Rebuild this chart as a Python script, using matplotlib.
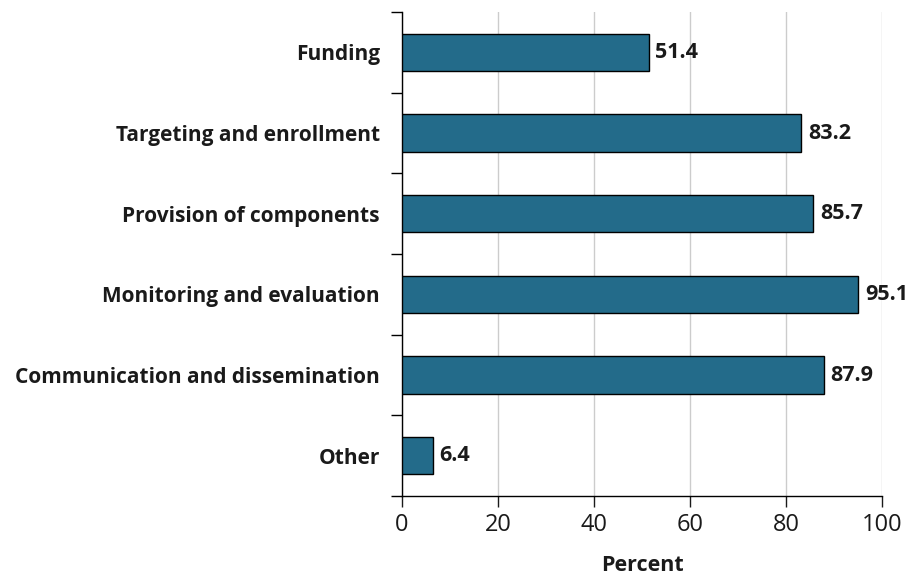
import numpy as np
import matplotlib
matplotlib.use("Agg")
import matplotlib.pyplot as plt

categories = [
    "Funding",
    "Targeting and enrollment",
    "Provision of components",
    "Monitoring and evaluation",
    "Communication and dissemination",
    "Other",
]
values = [51.4, 83.2, 85.7, 95.1, 87.9, 6.4]
x_ticks = [0, 20, 40, 60, 80, 100]

BAR_COLOR = "#236b8a"
TEXT_COLOR = "#1a1a1a"

plt.rcParams["font.family"] = ["Open Sans", "DejaVu Sans"]


def plot_bars(output_file="out.png"):
    fig = plt.figure(figsize=(9.12, 5.75), dpi=100)
    ax = fig.add_axes([0.4408, 0.1374, 0.9671 - 0.4408, 0.9791 - 0.1374])

    y = np.arange(len(categories))
    bars = ax.barh(y, values, height=0.46, color=BAR_COLOR,
                   edgecolor="black", linewidth=1.0, zorder=3)

    # value labels right of each bar
    for bar, val in zip(bars, values):
        ax.text(bar.get_width() + 1.4, bar.get_y() + bar.get_height() / 2,
                f"{val:.1f}", va="center", ha="left",
                fontsize=15.5, fontweight="bold", color=TEXT_COLOR)

    ax.set_ylim(len(categories) - 0.5, -0.5)
    ax.set_xlim(0, 100)

    # category names at bar centres, tick marks at the boundaries
    ax.set_yticks(y)
    ax.set_yticklabels(categories, fontsize=15, fontweight="bold", color=TEXT_COLOR)
    ax.tick_params(axis="y", which="major", length=0, pad=16)
    ax.set_yticks(np.arange(-0.5, len(categories)), minor=True)
    ax.tick_params(axis="y", which="minor", length=8, width=1.0, direction="out")

    ax.set_xticks(x_ticks)
    ax.tick_params(axis="x", length=8, width=1.0, direction="out",
                   labelsize=17, pad=4, colors=TEXT_COLOR)
    ax.set_xlabel("Percent", fontsize=15.5, fontweight="bold", labelpad=13,
                  color=TEXT_COLOR)

    ax.grid(axis="x", color="#cccccc", linewidth=1.0, zorder=0)
    ax.set_axisbelow(True)

    ax.spines["top"].set_visible(False)
    ax.spines["right"].set_visible(False)
    for s in ("left", "bottom"):
        ax.spines[s].set_linewidth(1.0)

    fig.savefig(output_file, dpi=100)


if __name__ == "__main__":
    plot_bars()
